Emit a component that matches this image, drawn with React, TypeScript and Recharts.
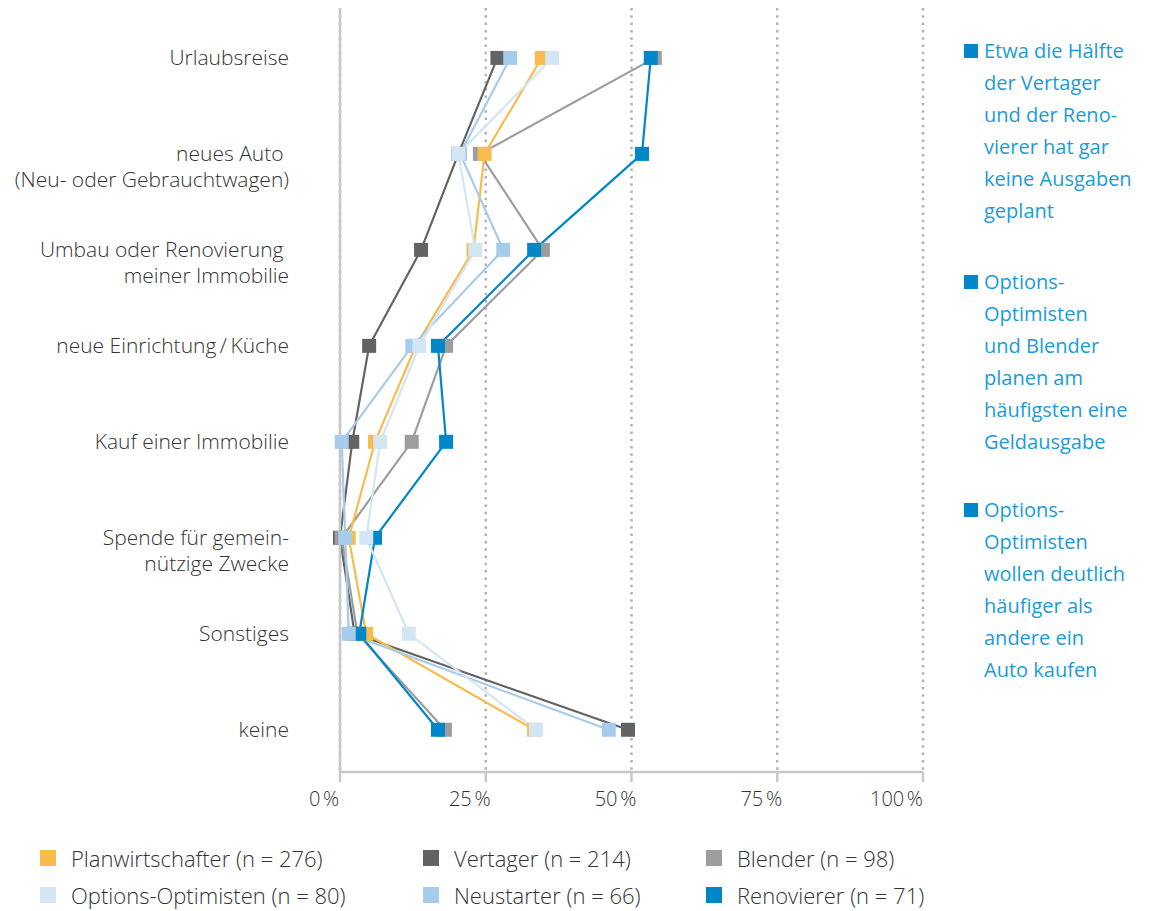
import React from 'react';
import { LineChart, Line, XAxis, YAxis, CartesianGrid } from 'recharts';

const categories = [
  'Urlaubsreise',
  'neues Auto \n(Neu- oder Gebrauchtwagen)',
  'Umbau oder Renovierung \nmeiner Immobilie',
  'neue Einrichtung\u2009/\u2009Küche',
  'Kauf einer Immobilie',
  'Spende für gemein-\nnützige Zwecke',
  'Sonstiges',
  'keine',
];

const planwirtschafter = [34.6, 24.8, 22.9, 13.0, 6.0, 1.5, 4.5, 33.3];
const vertager = [27.0, 20.3, 13.9, 5.0, 2.1, 0.0, 2.5, 49.4];
const blender = [54.0, 24.0, 34.8, 18.2, 12.3, 0.3, 3.0, 18.0];
const optionsOptimisten = [36.4, 20.3, 23.2, 13.6, 6.9, 4.5, 11.8, 33.6];
const neustarter = [29.2, 20.6, 28.0, 12.4, 0.3, 0.9, 1.5, 46.1];
const renovierer = [53.3, 51.8, 33.3, 16.8, 18.2, 6.0, 3.3, 16.8];

const xTicks = [0, 25, 50, 75, 100];
const xTickLabels = ['0\u202F%', '25\u202F%', '50\u202F%', '75\u202F%', '100\u202F%'];

const seriesNames = {
  plan: 'Planwirtschafter (n = 276)',
  vert: 'Vertager (n = 214)',
  blend: 'Blender (n = 98)',
  oo: 'Options-Optimisten (n = 80)',
  neu: 'Neustarter (n = 66)',
  reno: 'Renovierer (n = 71)',
};

const colors = {
  plan: '#f8bc4e',
  vert: '#626365',
  blend: '#9c9d9e',
  oo: '#d4e5f4',
  neu: '#a7cbea',
  reno: '#0087c9',
};

const annotations = [
  ['Etwa die Hälfte', 'der Vertager', 'und der Reno-', 'vierer hat gar', 'keine Ausgaben', 'geplant'],
  ['Options-', 'Optimisten', 'und Blender', 'planen am', 'häufigsten eine', 'Geldausgabe'],
  ['Options-', 'Optimisten', 'wollen deutlich', 'häufiger als', 'andere ein', 'Auto kaufen'],
];

const data = categories.map((c, i) => ({
  idx: i,
  label: c,
  plan: planwirtschafter[i],
  vert: vertager[i],
  blend: blender[i],
  oo: optionsOptimisten[i],
  neu: neustarter[i],
  reno: renovierer[i],
}));

// draw order (bottom -> top)
const drawOrder: (keyof typeof colors)[] = ['vert', 'blend', 'plan', 'reno', 'neu', 'oo'];
const legendRows: (keyof typeof colors)[][] = [
  ['plan', 'vert', 'blend'],
  ['oo', 'neu', 'reno'],
];

const FONT = "'Open Sans', 'Noto Sans', sans-serif";

const SquareDot = (color: string) => (props: any) => {
  const { cx, cy, index } = props;
  if (cx == null || cy == null) return <g key={index} />;
  return <rect key={index} x={cx - 7} y={cy - 7} width={14} height={14} fill={color} />;
};

const YTick = (props: any) => {
  const { x, y, payload } = props;
  const lines = String(categories[payload.value] ?? '').split('\n');
  const tx = x - 51;
  return (
    <text x={tx} y={y} textAnchor="end" fontSize={21} fontFamily={FONT} fontWeight={300} fill="#333" style={{ whiteSpace: 'pre' }}>
      {lines.map((l, i) => (
        <tspan key={i} x={tx} dy={i === 0 ? '0.35em' : 26}>
          {l}
        </tspan>
      ))}
    </text>
  );
};

const XTick = (props: any) => {
  const { x, y, payload, index } = props;
  const i = xTicks.indexOf(payload.value);
  const label = xTickLabels[i >= 0 ? i : index];
  const last = i === xTicks.length - 1;
  return (
    <text
      x={last ? x : x - 16}
      y={y + 24}
      textAnchor={last ? 'end' : 'middle'}
      fontSize={20}
      fontFamily={FONT}
      fontWeight={300}
      fill="#333"
    >
      {label}
    </text>
  );
};

export default function App() {
  return (
    <div style={{ position: 'absolute', left: 0, top: 0, width: 1160, height: 911, background: '#fff', fontFamily: FONT }}>
      <div style={{ position: 'absolute', left: 0, top: 0 }}>
        <LineChart
          width={1160}
          height={830}
          data={data}
          layout="vertical"
          margin={{ top: 8, right: 237, bottom: 0, left: 0 }}
        >
          <CartesianGrid
            horizontal={false}
            vertical={true}
            stroke="#b3b3b3"
            strokeWidth={2.5}
            strokeDasharray="2.5 4.8"
          />
          <XAxis
            type="number"
            domain={[0, 100]}
            ticks={xTicks}
            interval={0}
            height={58}
            tickSize={10}
            tickMargin={0}
            axisLine={{ stroke: '#c8c8c8', strokeWidth: 2.5 }}
            tickLine={{ stroke: '#c8c8c8', strokeWidth: 2.5 }}
            tick={<XTick />}
          />
          <YAxis
            type="number"
            dataKey="idx"
            domain={[-0.52, 7.44]}
            ticks={[0, 1, 2, 3, 4, 5, 6, 7]}
            interval={0}
            width={340}
            tickSize={0}
            tickMargin={0}
            tickLine={false}
            axisLine={{ stroke: '#c8c8c8', strokeWidth: 2.5 }}
            tick={<YTick />}
          />
          {drawOrder.map((k) => (
            <Line
              key={k}
              dataKey={k}
              name={seriesNames[k]}
              type="linear"
              stroke={colors[k]}
              strokeWidth={2.2}
              dot={SquareDot(colors[k])}
              activeDot={false}
              isAnimationActive={false}
            />
          ))}
        </LineChart>
      </div>

      {annotations.map((block, b) => {
        const tops = [35, 266, 494];
        return (
          <div key={b} style={{ position: 'absolute', left: 964, top: tops[b] }}>
            <div style={{ position: 'absolute', left: 0, top: 9, width: 14, height: 14, background: '#0087c9' }} />
            <div style={{ position: 'absolute', left: 20, top: 0, whiteSpace: 'nowrap', fontSize: 20, lineHeight: '32px', color: '#1b9bd7' }}>
              {block.map((l, i) => (
                <div key={i}>{l}</div>
              ))}
            </div>
          </div>
        );
      })}

      {legendRows.map((row, r) => (
        <div key={r}>
          {row.map((k, c) => {
            const lefts = [40, 423, 706];
            const centerY = r === 0 ? 858 : 895;
            return (
              <div key={k} style={{ position: 'absolute', left: lefts[c], top: centerY - 16 }}>
                <div style={{ position: 'absolute', left: 0, top: 8, width: 16, height: 16, background: colors[k] }} />
                <div style={{ position: 'absolute', left: 31, top: 0, whiteSpace: 'nowrap', fontSize: 22, lineHeight: '32px', fontWeight: 300, color: '#333' }}>
                  {seriesNames[k]}
                </div>
              </div>
            );
          })}
        </div>
      ))}
    </div>
  );
}
